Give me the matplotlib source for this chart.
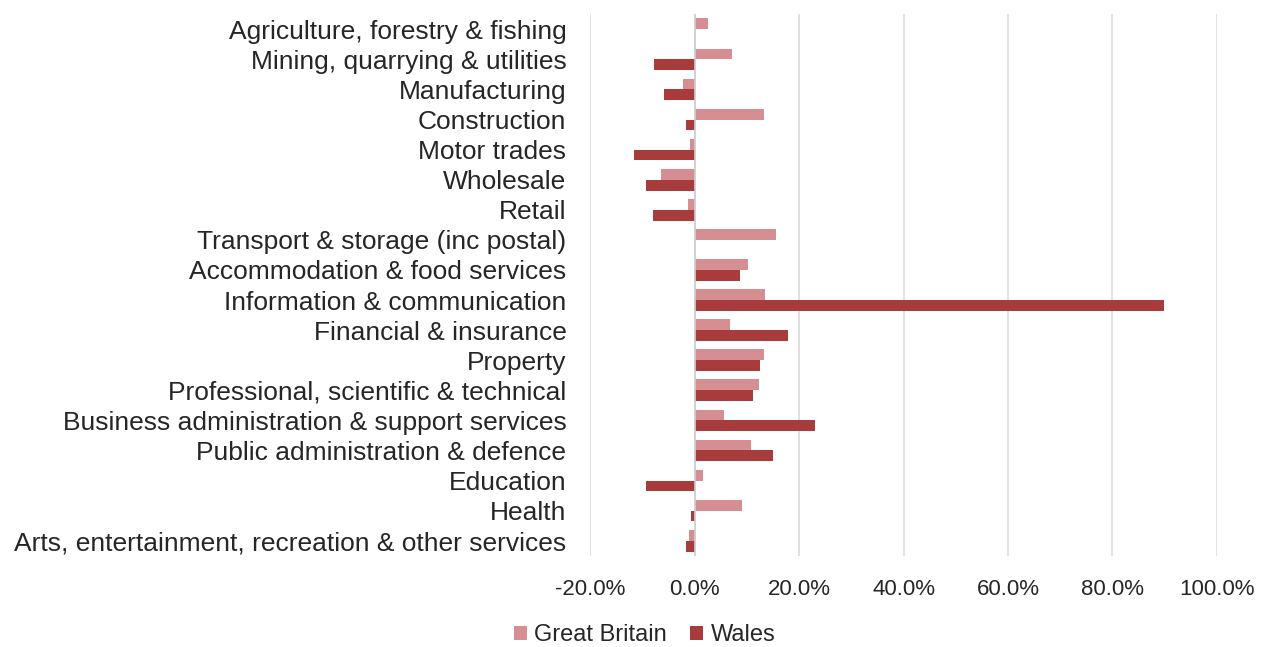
import matplotlib
matplotlib.use("Agg")
import matplotlib.pyplot as plt
import numpy as np
from matplotlib.ticker import FuncFormatter

categories = [
    "Agriculture, forestry & fishing",
    "Mining, quarrying & utilities",
    "Manufacturing",
    "Construction",
    "Motor trades",
    "Wholesale",
    "Retail",
    "Transport & storage (inc postal)",
    "Accommodation & food services",
    "Information & communication",
    "Financial & insurance",
    "Property",
    "Professional, scientific & technical",
    "Business administration & support services",
    "Public administration & defence",
    "Education",
    "Health",
    "Arts, entertainment, recreation & other services",
]
great_britain = [2.5, 7.2, -2.3, 13.2, -0.8, -6.5, -1.3, 15.6, 10.2, 13.5,
                 6.8, 13.2, 12.3, 5.6, 10.8, 1.6, 9.0, -1.0]
wales = [0.0, -7.7, -5.9, -1.6, -11.5, -9.3, -8.0, 0.0, 8.7, 89.9,
         17.8, 12.6, 11.1, 23.0, 15.1, -9.3, -0.7, -1.6]
x_ticks = [-20, 0, 20, 40, 60, 80, 100]

plt.rcParams['font.family'] = ['Liberation Sans', 'DejaVu Sans']

fig = plt.figure(figsize=(12.69, 6.47), dpi=100)
ax = fig.add_axes([0.465, 0.141, 0.494, 0.837])

y = np.arange(len(categories))
h = 0.36
gb_color = "#D58F92"
wa_color = "#A83C3C"
ax.barh(y - h / 2, great_britain, height=h, color=gb_color, label="Great Britain", zorder=3)
ax.barh(y + h / 2, wales, height=h, color=wa_color, label="Wales", zorder=3)

ax.set_ylim(len(categories) - 0.5, -0.5)
ax.set_xlim(-20, 100)
ax.set_xticks(x_ticks)
ax.xaxis.set_major_formatter(FuncFormatter(lambda v, p: f"{v:.1f}%"))
ax.set_yticks(y)
ax.set_yticklabels(categories)
ax.tick_params(axis='both', length=0, colors="#262626")
ax.tick_params(axis='x', pad=17, labelsize=16)
ax.tick_params(axis='y', pad=17, labelsize=19)
ax.grid(axis='x', color="#D9D9D9", linewidth=1.2, zorder=0)
for s in ax.spines.values():
    s.set_visible(False)
ax.axvline(0, color="#D0D0D0", linewidth=1.2, zorder=4)

fig.legend(loc="center", bbox_to_anchor=(0.508, 0.018), ncol=2, frameon=False,
           fontsize=17, handlelength=0.55, handleheight=0.55, handletextpad=0.3,
           columnspacing=1.0, labelcolor="#262626")

fig.savefig("out.png", dpi=100)
